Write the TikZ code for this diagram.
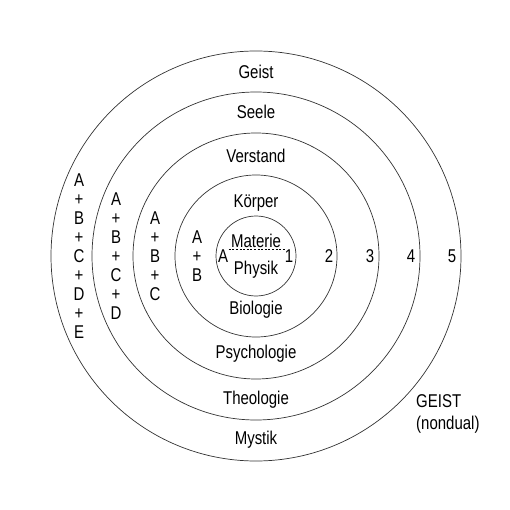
\documentclass[tikz,border=0pt]{standalone}
\usepackage{fontspec}
\setmainfont{Liberation Sans}[FakeStretch=0.81]
\usetikzlibrary{positioning}

\begin{document}
\begin{tikzpicture}[x=1pt,y=-1pt,
    ring/.style={draw=black!80,line width=0.7pt},
    lbl/.style={font=\fontsize{18.5}{19}\selectfont,inner sep=0pt,anchor=base},
    sumcol/.style={font=\fontsize{18.5}{19}\selectfont,inner sep=0pt,align=center}]
  \useasboundingbox (0,0) rectangle (510,510);
  \coordinate (c) at (256,256);

  % Rings
  \foreach \r in {40,81,123,164,205} {
    \draw[ring] (c) circle (\r pt);
  }

  % Upper labels
  \node[lbl] (geist)    at (256,79)  {Geist};
  \node[lbl] (seele)    at (256,119) {Seele};
  \node[lbl] (verstand) at (256,163) {Verstand};
  \node[lbl] (koerper)  at (256,208) {Körper};
  \node[lbl] (materie)  at (256,247) {Materie};

  % Lower labels
  \node[lbl] (physik)   at (256,274) {Physik};
  \node[lbl] (biologie) at (256,314) {Biologie};
  \node[lbl] (psycho)   at (256,358) {Psychologie};
  \node[lbl] (theo)     at (256,404) {Theologie};
  \node[lbl] (mystik)   at (256,444) {Mystik};

  % Axis A - 1 and ring numbers
  \node[lbl] (a0) at (223,262) {A};
  \node[lbl] (n1) at (289,262) {1};
  \draw[dashed,dash pattern=on 2pt off 1.6pt,line width=0.5pt] (a0.east) ++(0.5,-6) coordinate (d0) -- (d0 -| n1.west);
  \foreach \n/\x in {2/329,3/370,4/411,5/452} {
    \node[lbl] (n\n) at (\x,262) {\n};
  }

  % Sums
  \node[sumcol] (sum2) at (197,256) {A\\+\\B};
  \node[sumcol] (sum3) at (155,256) {A\\+\\B\\+\\C};
  \node[sumcol] (sum4) at (116,256) {A\\+\\B\\+\\C\\+\\D};
  \node[sumcol] (sum5) at (79,256)  {A\\+\\B\\+\\C\\+\\D\\+\\E};

  % Outside
  \node[lbl,anchor=base west,align=left,font=\fontsize{18.5}{22}\selectfont]
    (nondual) at (416,429) {GEIST\\(nondual)};
\end{tikzpicture}
\end{document}
